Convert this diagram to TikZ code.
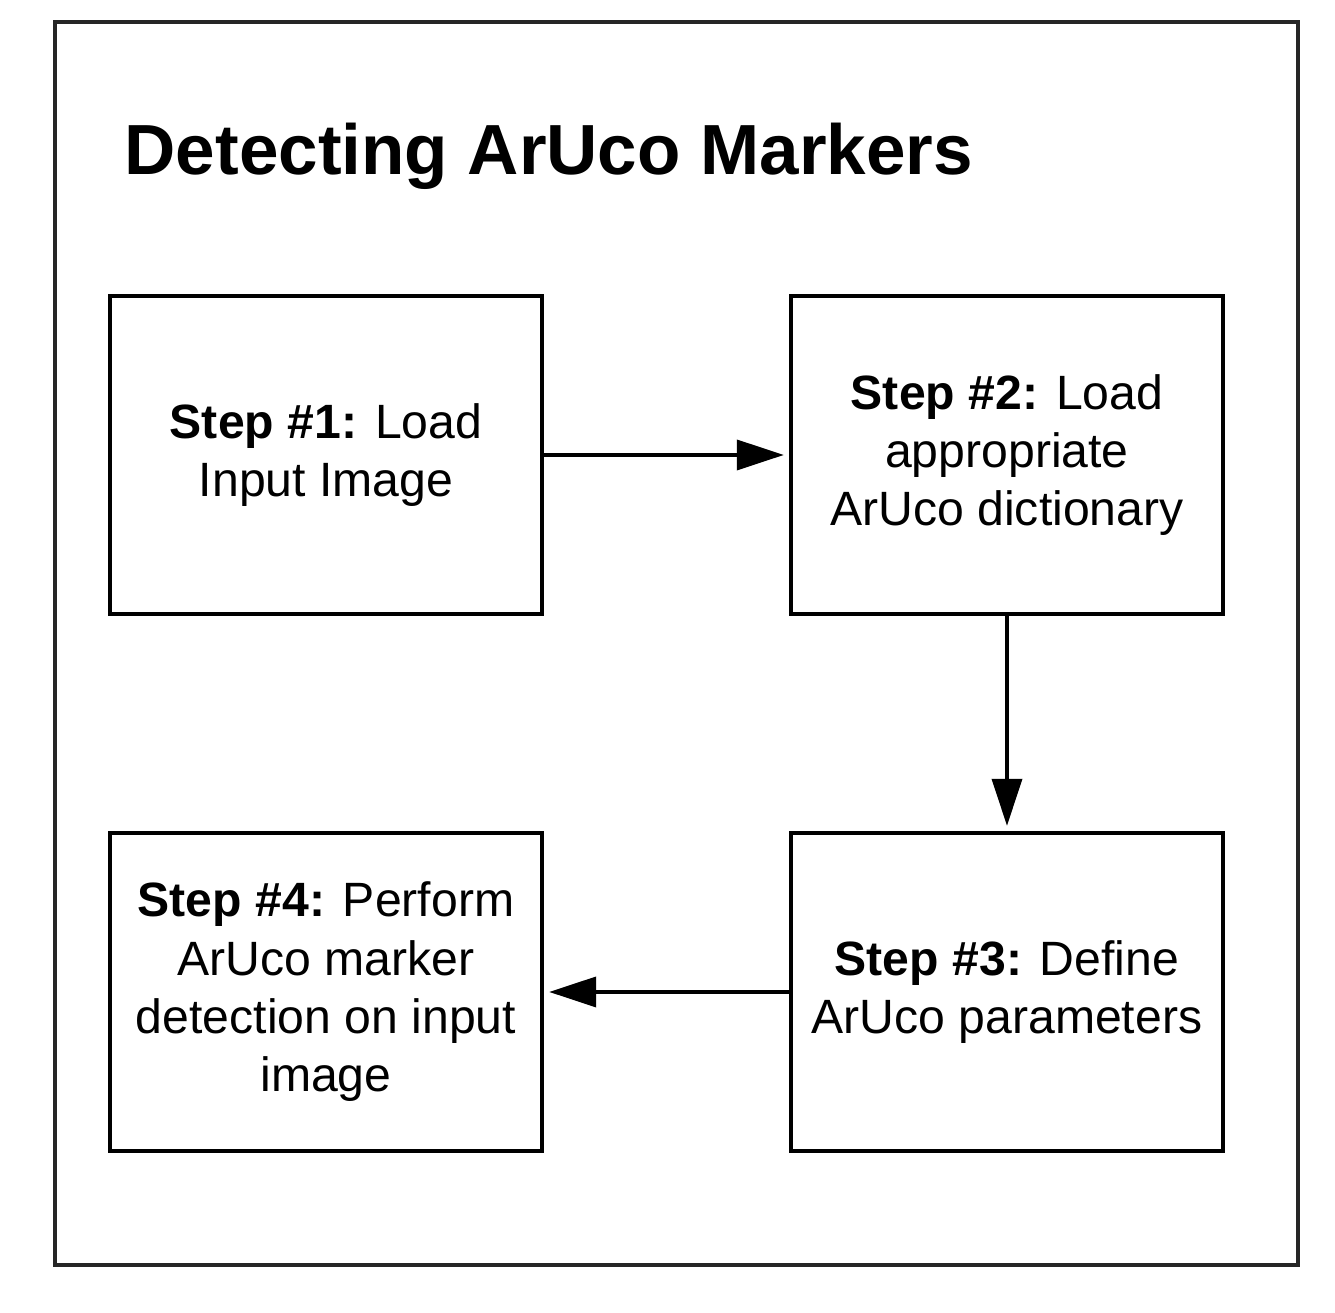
\documentclass[tikz,border=0pt]{standalone}
\usepackage{fontspec}
\setmainfont{Liberation Sans}
\usetikzlibrary{arrows.meta}

\begin{document}
\begin{tikzpicture}[x=1cm,y=1cm,
    stepbox/.style={draw=black,line width=1.1pt,minimum width=4.32cm,minimum height=3.18cm,
      align=center,font=\fontsize{13.7}{16.6}\selectfont,inner sep=0pt},
    flow/.style={line width=1.1pt,-{Triangle[length=0.47cm,width=0.30cm]},shorten >=1.5pt}]
  \useasboundingbox (0,0) rectangle (13.35,13.13);
  % outer frame and title
  \draw[line width=1.4pt,black!85] (0.55,12.91) rectangle (12.98,0.48);
  \node[anchor=base west,inner sep=0pt,font=\fontsize{20.2}{24}\selectfont\bfseries] (title) at (1.24,11.38) {Detecting ArUco Markers};
  % steps
  \node[stepbox] (s1) at (3.26,8.58) {\textbf{Step \#1:} Load\\Input Image};
  \node[stepbox] (s2) at (10.07,8.58) {\textbf{Step \#2:} Load\\appropriate\\ArUco dictionary};
  \node[stepbox] (s3) at (10.07,3.21) {\textbf{Step \#3:} Define\\ArUco parameters};
  \node[stepbox] (s4) at (3.26,3.21) {\textbf{Step \#4:} Perform\\ArUco marker\\detection on input\\image};
  % connectors
  \draw[flow] (s1.east) -- (s2.west);
  \draw[flow] (s2.south) -- (s3.north);
  \draw[flow] (s3.west) -- (s4.east);
\end{tikzpicture}
\end{document}
